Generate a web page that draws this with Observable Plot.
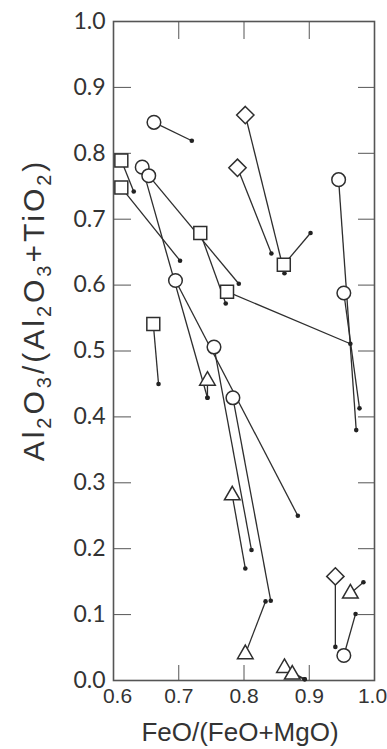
<!DOCTYPE html>
<html>
<head>
<meta charset="utf-8">
<script src="https://cdn.jsdelivr.net/npm/d3@7"></script>
<script src="https://cdn.jsdelivr.net/npm/@observablehq/plot@0.6"></script>
<style>
  html, body { margin: 0; padding: 0; background: #fff; }
  #chart { width: 387px; height: 749px; }
</style>
</head>
<body>
<div id="chart"></div>
<script>
// Tick values
const xTicks = [0.6, 0.7, 0.8, 0.9, 1.0];
const yTicks = [0, 0.1, 0.2, 0.3, 0.4, 0.5, 0.6, 0.7, 0.8, 0.9, 1.0];

// Open symbols (one end of each tie line)
const symShape = ["circle","square","square","circle","circle","square","square","square",
                  "diamond","diamond","square","circle","circle","circle","circle","circle",
                  "triangle","triangle","triangle","triangle","triangle","diamond","triangle","circle"];
const symX = [0.662,0.612,0.612,0.644,0.654,0.733,0.774,0.661,
              0.802,0.790,0.861,0.945,0.953,0.695,0.754,0.783,
              0.744,0.782,0.802,0.862,0.874,0.940,0.963,0.953];
const symY = [0.847,0.789,0.748,0.779,0.766,0.679,0.590,0.541,
              0.858,0.778,0.631,0.760,0.588,0.607,0.506,0.429,
              0.455,0.281,0.040,0.019,0.009,0.158,0.132,0.038];

// Filled dots (other end of each tie line)
const dotX = [0.720,0.631,0.702,0.744,0.792,0.772,0.963,0.669,
              0.862,0.842,0.902,0.972,0.977,0.8825,0.8115,0.841,
              0.744,0.802,0.833,0.893,0.893,0.940,0.983,0.971];
const dotY = [0.819,0.742,0.637,0.429,0.602,0.572,0.511,0.450,
              0.618,0.648,0.679,0.380,0.413,0.250,0.198,0.121,
              0.429,0.170,0.120,0.002,0.002,0.051,0.149,0.101];

const rows = symShape.map((s, i) => ({shape: s, x: symX[i], y: symY[i], dx: dotX[i], dy: dotY[i]}));

const ink = "#2e2e2e";
const tickFont = "Lato, 'DejaVu Sans', sans-serif";
const xTickFont = "'Liberation Sans', Arial, sans-serif";

const symbolMark = (shape, sym, r) =>
  Plot.dot(rows.filter(d => d.shape === shape), {
    x: "x", y: "y", symbol: () => sym, r, fill: "white", stroke: ink, strokeWidth: 1.5
  });

const chart = Plot.plot({
  width: 387,
  height: 749,
  marginLeft: 113,
  marginRight: 13,
  marginTop: 21,
  marginBottom: 69,
  style: {background: "white", color: ink, overflow: "visible"},
  x: {domain: [0.6, 1.0]},
  y: {domain: [0, 1.0]},
  symbol: {type: "identity"},
  marks: [
    // inward ticks on all four sides
    Plot.axisY({ticks: yTicks, anchor: "left", tickSize: -18, fill: "none", label: null, stroke: "#555"}),
    Plot.axisY({ticks: yTicks, anchor: "right", tickSize: -17, fill: "none", label: null, stroke: "#555"}),
    Plot.axisX({ticks: xTicks, anchor: "bottom", tickSize: -15, fill: "none", label: null, stroke: "#555"}),
    Plot.axisX({ticks: xTicks, anchor: "top", tickSize: -17, fill: "none", label: null, stroke: "#555"}),
    // tick labels
    Plot.axisY({ticks: yTicks, anchor: "left", tickSize: 0, tickPadding: 8, label: null,
                tickFormat: d3.format(".1f"), fontSize: 23, fontFamily: tickFont, fill: "#333"}),
    Plot.axisX({ticks: xTicks, anchor: "bottom", tickSize: 0, tickPadding: 8, label: null,
                tickFormat: d3.format(".1f"), fontSize: 21, fontFamily: xTickFont, fill: "#333"}),
    Plot.frame({stroke: "#555", strokeWidth: 1.6}),
    // tie lines
    Plot.link(rows, {x1: "x", y1: "y", x2: "dx", y2: "dy", stroke: ink, strokeWidth: 1.3}),
    // filled end dots
    Plot.dot(rows, {x: "dx", y: "dy", r: 2.3, fill: "#222", stroke: "none"}),
    // open symbols
    symbolMark("circle", "circle", 6.8),
    symbolMark("square", "square", 7.3),
    symbolMark("diamond", "diamond2", 7.8),
    symbolMark("triangle", "triangle", 5.8)
  ]
});

document.getElementById("chart").appendChild(chart);

const svg = d3.select(chart);

// keep the outer x tick labels inside the picture, as in the reference
const xLabels = svg.selectAll("g[aria-label='x-axis tick label'] text");
const nX = xLabels.size();
xLabels.each(function(d, i) {
  if (i === 0) d3.select(this).attr("dx", 4);
  if (i === nX - 1) d3.select(this).attr("dx", -2);
});

// Axis titles (with subscripts)
svg.append("text")
  .attr("x", 240).attr("y", 741)
  .attr("text-anchor", "middle")
  .attr("font-family", "'Liberation Sans', Arial, sans-serif")
  .attr("font-size", 26)
  .attr("fill", "#333")
  .text("FeO/(FeO+MgO)");

const yt = svg.append("text")
  .attr("transform", "translate(44,310) rotate(-90)")
  .attr("text-anchor", "middle")
  .attr("font-family", "'Liberation Sans', Arial, sans-serif")
  .attr("font-size", 30)
  .attr("letter-spacing", 3)
  .attr("fill", "#333");
const parts = [["Al",0],["2",1],["O",0],["3",1],["/(Al",0],["2",1],["O",0],["3",1],["+TiO",0],["2",1],[")",0]];
parts.forEach(([t, sub], i) => {
  const ts = yt.append("tspan").text(t);
  if (sub) ts.attr("font-size", 20).attr("dy", 7);
  else if (i > 0 && parts[i - 1][1]) ts.attr("dy", -7);
});
</script>
</body>
</html>
